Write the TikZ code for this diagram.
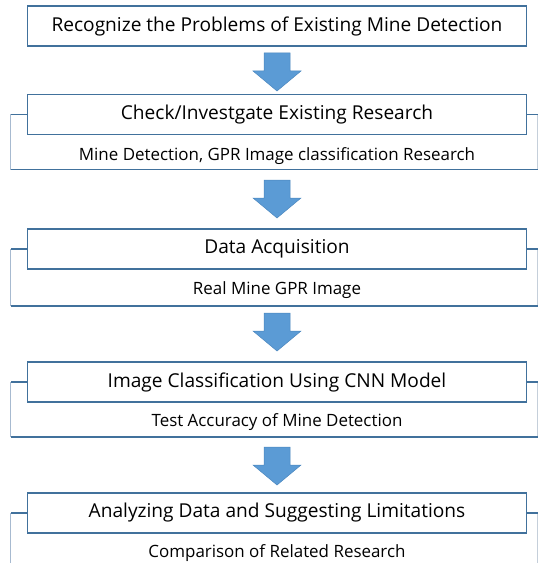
\documentclass[tikz,border=0pt]{standalone}
\usepackage{fontspec}
\setmainfont{Open Sans}
\usetikzlibrary{calc,backgrounds}
\definecolor{edgedark}{HTML}{41719C}
\definecolor{edgelight}{HTML}{A7BAD0}
\definecolor{edgepale}{HTML}{C5CFDA}
\definecolor{arrowfill}{HTML}{5B9BD5}
\definecolor{arrowedge}{HTML}{4A86BE}
\tikzset{
  stepbox/.style={draw=edgedark, line width=1.4bp, fill=white, minimum width=499.5bp,
    minimum height=40bp, inner sep=0pt, font=\fontsize{19.2}{22}\selectfont},
  subtext/.style={inner sep=0pt, font=\fontsize{17}{20}\selectfont},
  framedark/.style={draw=edgedark, line width=1.8bp},
  framelight/.style={draw=edgelight, line width=1.6bp},
  framepale/.style={draw=edgepale, line width=1.4bp},
  bigarrow/.style={fill=arrowfill, draw=arrowedge, line width=0.5bp, line join=miter},
}
\newcommand\outerframe[2]{%
  \coordinate (#1tl) at ([xshift=-16bp]#1.west);
  \coordinate (#1tr) at ([xshift=10.5bp]#1.east);
  \coordinate (#1bl) at (#1tl |- 0,#2);
  \coordinate (#1br) at (#1tr |- 0,#2);
  \draw[framelight] (#1tl) -- (#1bl);
  \draw[framepale] (#1tr) -- (#1br);
  \draw[framedark] (#1.west) -- (#1tl);
  \draw[framedark] (#1.east) -- (#1tr);
  \draw[framedark] (#1bl) -- (#1br);
}
\newcommand\blockarrow[1]{%
  \path[bigarrow] (#1) ++(-13,0) -- ++(26,0) -- ++(0,18) -- ++(11,0) -- ++(-24,20)
    -- ++(-24,-20) -- ++(11,0) -- cycle;
}
\begin{document}
\begin{tikzpicture}[x=1bp, y=-1bp]
  \useasboundingbox (0,0) rectangle (538,563);
  \clip (0,0) rectangle (538,563);
  % main steps
  \node[stepbox] (b1) at (277,26) {Recognize the Problems of Existing Mine Detection};
  \node[stepbox] (b2) at (277,114.5) {Check/Investgate Existing Research};
  \node[stepbox] (b3) at (277,249) {Data Acquisition};
  \node[stepbox] (b4) at (277,382) {Image Classification Using CNN Model};
  \node[stepbox] (b5) at (277,513) {Analyzing Data and Suggesting Limitations};
  % sub texts
  \node[subtext] (s2) at (277,156) {Mine Detection, GPR Image classification Research};
  \node[subtext] (s3) at (277,290) {Real Mine GPR Image};
  \node[subtext] (s4) at (277,422) {Test Accuracy of Mine Detection};
  \node[subtext] (s5) at (277,553) {Comparison of Related Research};
  % outer frames
  \begin{scope}[on background layer]
    \outerframe{b2}{169.5}
    \outerframe{b3}{306}
    \outerframe{b4}{437}
    \outerframe{b5}{575}
  \end{scope}
  % arrows
  \coordinate (a1) at (277,53);
  \coordinate (a2) at (277,180);
  \coordinate (a3) at (277,313);
  \coordinate (a4) at (277,447);
  \blockarrow{a1}
  \blockarrow{a2}
  \blockarrow{a3}
  \blockarrow{a4}
\end{tikzpicture}
\end{document}
